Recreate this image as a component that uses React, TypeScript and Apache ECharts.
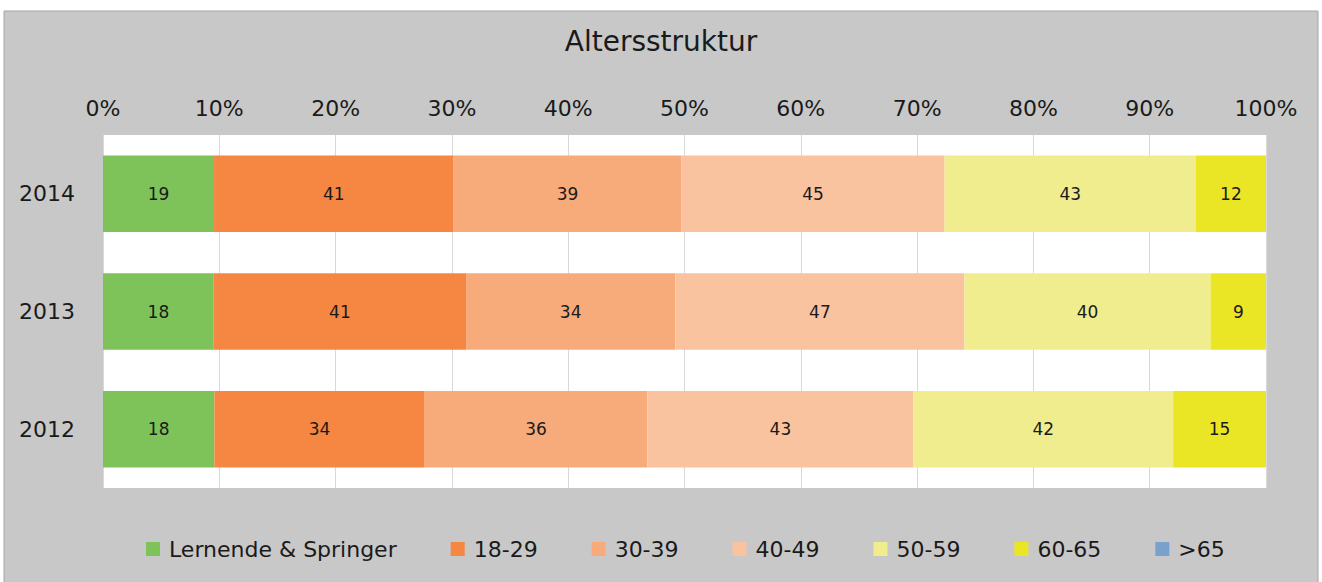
import React, { useEffect, useRef } from "react";
import * as echarts from "echarts";

const years = ["2012", "2013", "2014"];
const seriesNames = ["Lernende & Springer", "18-29", "30-39", "40-49", "50-59", "60-65", ">65"];
const lernende = [18, 18, 19];
const age18_29 = [34, 41, 41];
const age30_39 = [36, 34, 39];
const age40_49 = [43, 47, 45];
const age50_59 = [42, 40, 43];
const age60_65 = [15, 9, 12];
const age65plus = [0, 0, 0];
const xTicks = [0, 10, 20, 30, 40, 50, 60, 70, 80, 90, 100];
const colors = ["#7dc35a", "#f58742", "#f7ab7b", "#f9c3a0", "#f0ed8e", "#ebe625", "#7aa0cd"];

const FONT = "'DejaVu Sans', Verdana, sans-serif";

export default function App() {
  const ref = useRef<HTMLDivElement>(null);
  useEffect(() => {
    if (!ref.current) return;
    const chart = echarts.init(ref.current, null, { renderer: "svg" });
    const all = [lernende, age18_29, age30_39, age40_49, age50_59, age60_65, age65plus];
    const totals = years.map((_, i) => all.reduce((s, arr) => s + arr[i], 0));
    const series = all.map((arr, si) => ({
      name: seriesNames[si],
      type: "bar",
      stack: "total",
      barCategoryGap: "35%",
      itemStyle: { color: colors[si] },
      label: {
        show: true,
        position: "inside",
        color: "#1a1a1a",
        fontFamily: FONT,
        fontSize: 17,
        formatter: (p: any) => (arr[p.dataIndex] > 0 ? String(arr[p.dataIndex]) : ""),
      },
      data: arr.map((v, i) => (v / totals[i]) * 100),
    }));
    chart.setOption({
      animation: false,
      backgroundColor: "#ffffff",
      graphic: [
        {
          type: "rect",
          shape: { x: 4, y: 11, width: 1314, height: 580 },
          style: { fill: "#c8c8c8", stroke: "#a6a6a6", lineWidth: 1 },
          z: -10,
          silent: true,
        },
      ],
      title: {
        text: "Altersstruktur",
        left: "center",
        top: 22,
        textStyle: { fontFamily: FONT, fontSize: 28, fontWeight: "normal", color: "#1a1a1a" },
      },
      legend: {
        top: 533,
        left: 141,
        itemWidth: 14,
        itemHeight: 14,
        itemGap: 54,
        icon: "rect",
        textStyle: { fontFamily: FONT, fontSize: 22, color: "#1a1a1a", padding: [0, 0, 0, 4] },
        data: seriesNames,
      },
      grid: {
        left: 103,
        right: 56,
        top: 135,
        bottom: 94,
        show: true,
        backgroundColor: "#ffffff",
        borderWidth: 0,
      },
      xAxis: {
        type: "value",
        position: "top",
        min: xTicks[0],
        max: xTicks[xTicks.length - 1],
        interval: 10,
        axisLine: { show: false },
        axisTick: { show: false },
        splitLine: { show: true, lineStyle: { color: "#d9d9d9", width: 1 } },
        axisLabel: {
          formatter: (v: number) => v + "%",
          fontFamily: FONT,
          fontSize: 22,
          color: "#1a1a1a",
          margin: 16,
        },
      },
      yAxis: {
        type: "category",
        data: years,
        axisLine: { show: false },
        axisTick: { show: false },
        axisLabel: { fontFamily: FONT, fontSize: 22, color: "#1a1a1a", margin: 28 },
      },
      series,
    });
    return () => chart.dispose();
  }, []);
  return (
    <div
      ref={ref}
      style={{ position: "fixed", left: 0, top: 0, width: 1322, height: 582 }}
    />
  );
}
